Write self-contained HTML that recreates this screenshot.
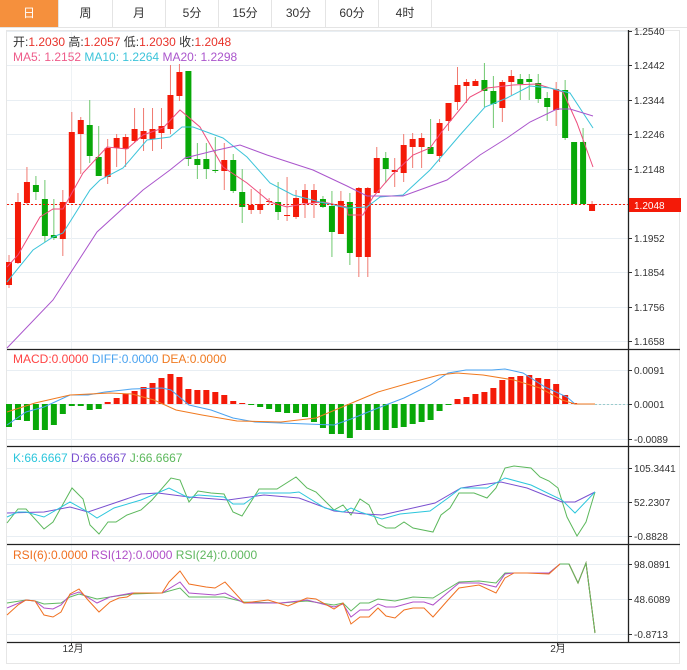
<!DOCTYPE html>
<html><head><meta charset="utf-8">
<style>
html,body{margin:0;padding:0;background:#fff;width:687px;height:670px;overflow:hidden;font-family:"Liberation Sans","Noto Sans CJK SC",sans-serif;}
.tabs{position:absolute;left:0;top:0;width:687px;height:27px;border-bottom:1px solid #e4e4e4;}
.tab{position:absolute;top:0;height:27px;line-height:27px;text-align:center;font-size:12px;color:#333;border-right:1px solid #e4e4e4;}
svg{position:absolute;left:0;top:0;}
</style></head><body>
<div class="tabs">
<div class="tab" style="left:0;width:58px;background:#f5903d;color:#fff;">日</div>
<div class="tab" style="left:59px;width:53px;">周</div>
<div class="tab" style="left:113px;width:52px;">月</div>
<div class="tab" style="left:166px;width:52px;">5分</div>
<div class="tab" style="left:219px;width:52px;">15分</div>
<div class="tab" style="left:272px;width:53px;">30分</div>
<div class="tab" style="left:326px;width:52px;">60分</div>
<div class="tab" style="left:379px;width:52px;">4时</div>
</div>
<svg id="s" width="687" height="670" xmlns="http://www.w3.org/2000/svg" font-family="Liberation Sans, Noto Sans CJK SC, sans-serif"></svg>
<script>
var s='';
function L(x1,y1,x2,y2,c,w,d){s+='<line x1="'+x1+'" y1="'+y1+'" x2="'+x2+'" y2="'+y2+'" stroke="'+c+'" stroke-width="'+(w||1)+'"'+(d?' stroke-dasharray="'+d+'"':'')+'/>';}
function P(pts,c){s+='<polyline fill="none" stroke="'+c+'" stroke-width="1" points="'+pts.map(function(p){return p.join(',')}).join(' ')+'"/>';}
function T(x,y,t,c,sz,a){s+='<text x="'+x+'" y="'+y+'" fill="'+c+'" font-size="'+(sz||12)+'"'+(a?' text-anchor="'+a+'"':'')+'>'+t+'</text>';}
// frame
s+='<rect x="6.5" y="30.5" width="673" height="633" fill="none" stroke="#e6e6e6"/>';
// grids main
var mg=[[31,'1.2540'],[65,'1.2442'],[100,'1.2344'],[134,'1.2246'],[169,'1.2148'],[238,'1.1952'],[272,'1.1854'],[307,'1.1756'],[341,'1.1658']];
mg.forEach(function(g){L(7,g[0]+.5,628,g[0]+.5,'#e8eef3');L(628,g[0]+.5,632,g[0]+.5,'#333');T(634,g[0]+4,g[1],'#333',10);});
L(7,204.5,628,204.5,'#e8eef3');
[[370,'0.0091'],[404,'0.0001'],[439,'-0.0089']].forEach(function(g){L(7,g[0]+.5,628,g[0]+.5,'#e8eef3');L(628,g[0]+.5,632,g[0]+.5,'#333');T(634,g[0]+4,g[1],'#333',10);});
[[468,'105.3441'],[502,'52.2307'],[536,'-0.8828']].forEach(function(g){L(7,g[0]+.5,628,g[0]+.5,'#e8eef3');L(628,g[0]+.5,632,g[0]+.5,'#333');T(634,g[0]+4,g[1],'#333',10);});
[[564,'98.0891'],[599,'48.6089'],[634,'-0.8713']].forEach(function(g){L(7,g[0]+.5,628,g[0]+.5,'#e8eef3');L(628,g[0]+.5,632,g[0]+.5,'#333');T(634,g[0]+4,g[1],'#333',10);});
L(71.5,31,71.5,642,'#eef2f5');L(557.5,31,557.5,642,'#eef2f5');
// panel separators
[349.5,446.5,544.5,642.5].forEach(function(y){L(7,y,680,y,'#222',1.3);});
L(628.5,30,628.5,642,'#222',1.3);
L(71.5,642,71.5,646,'#333');L(557.5,642,557.5,646,'#333');
T(73,652,'12月','#333',10,'middle');T(558,652,'2月','#333',10,'middle');
// candles
var C=[['r',262,285,255,288],['r',202,263,193,264],['r',182,203,167,204],['g',185,192,176,200],['g',199,236,180,242],['g',235,238,199,240],['r',202,239,190,256],['r',132,203,112,203],['r',120,134,117,174],['g',125,156,100,163],['g',157,176,126,176],['r',148,177,139,184],['r',138,148,134,167],['r',137,149,134,167],['r',129,141,108,143],['r',131,139,108,151],['r',129,139,108,151],['r',126,133,108,149],['r',95,129,65,134],['r',72,96,64,101],['g',71,159,71,166],['g',159,165,143,179],['g',159,169,143,179],['g',170,171,137,173],['r',160,171,143,190],['g',160,191,154,193],['g',192,207,169,223],['r',205,210,189,214],['r',204,210,189,214],['r',201,202,198,204],['g',202,212,182,220],['r',215,216,177,221],['r',198,217,190,219],['r',190,203,184,218],['r',190,203,184,218],['g',199,207,196,208],['g',206,232,191,257],['r',201,234,191,234],['g',202,253,193,265],['r',188,257,187,277],['r',188,257,187,277],['r',158,193,147,193],['g',158,169,152,183],['r',170,172,158,187],['r',145,173,134,182],['r',139,147,133,168],['r',138,147,133,168],['g',147,154,119,154],['r',123,156,119,162],['r',103,121,103,131],['r',85,102,67,110],['r',82,86,79,103],['r',81,86,79,86],['g',80,91,63,107],['g',91,104,76,128],['r',82,108,80,122],['r',76,82,70,95],['g',79,84,74,100],['g',79,82,74,100],['g',83,99,74,103],['g',98,107,92,121],['r',89,110,82,126],['g',90,138,80,140],['g',142,204,142,204],['g',142,204,128,204],['r',204,211,201,211]];
C.forEach(function(c,i){var x=9+8.97*i;var bc=c[0]=='r'?'#f41a08':'#08a808',wc=c[0]=='r'?'#f07a70':'#70c870';
L(x,c[3],x,c[4],wc);s+='<rect x="'+(x-3)+'" y="'+c[1]+'" width="6" height="'+Math.max(1,c[2]-c[1])+'" fill="'+bc+'"/>';});
// MAs
P([[7,267],[18,255],[40,217],[53,209],[63,209],[83,173],[107,147],[127,149],[143,135],[163,128],[180,110],[200,127],[223,167],[247,183],[270,202],[287,207],[303,204],[323,202],[347,207],[348,215],[363,215],[373,197],[392,175],[413,155],[430,148],[443,130],[470,97],[487,88],[513,85],[537,84],[563,92],[577,123],[593,167]],'#ee4d7d');
P([[7,282],[33,250],[53,237],[63,233],[90,190],[100,180],[123,168],[147,140],[170,137],[182,127],[193,127],[223,138],[247,157],[270,183],[293,195],[320,202],[347,208],[367,207],[380,197],[403,195],[430,170],[460,135],[485,107],[507,98],[530,86],[550,88],[570,93],[593,128]],'#3cc4da');
P([[7,348],[53,300],[97,232],[143,190],[170,170],[185,158],[213,151],[240,145],[267,155],[313,170],[347,186],[367,196],[403,196],[447,180],[480,155],[507,138],[530,122],[557,109],[570,109],[593,116]],'#aa55cc');
L(7,204.5,628,204.5,'#f41a08',1,'2,2');
s+='<rect x="629" y="198" width="52" height="14" fill="#f41a08"/>';T(634,209,'1.2048','#fff',10);
// legend main
s+='<text x="13" y="46" font-size="12"><tspan fill="#333">开:</tspan><tspan fill="#e8322a">1.2030</tspan><tspan fill="#333">  高:</tspan><tspan fill="#e8322a">1.2057</tspan><tspan fill="#333">  低:</tspan><tspan fill="#e8322a">1.2030</tspan><tspan fill="#333">  收:</tspan><tspan fill="#e8322a">1.2048</tspan></text>';
s+='<text x="13" y="61" font-size="12"><tspan fill="#ee5c8a">MA5: 1.2152</tspan><tspan fill="#3cc4da">  MA10: 1.2264</tspan><tspan fill="#aa55cc">  MA20: 1.2298</tspan></text>';
// MACD bars
var M=[427,420,421,430,430,425,414,406,406,410,409,402,398,394,391,387,383,378,374,377,389,390,390,392,395,401,403,405,407,409,412,413,413,417,422,428,434,434,438,430,430,430,430,428,427,424,422,420,411,404,399,397,394,392,388,380,377,376,375,378,379,384,395,403];
M.forEach(function(v,i){var x=9+8.97*i;var up=v<404;var h=Math.abs(v-404);if(h<1)h=1;s+='<rect x="'+(x-3)+'" y="'+(up?v:404)+'" width="6" height="'+h+'" fill="'+(up?'#f41a08':'#08a808')+'"/>';});
P([[7,425],[26,412],[44,407],[70,395],[88,395],[105,392],[132,389],[162,388],[171,390],[189,405],[211,410],[233,418],[255,422],[281,423],[307,424],[334,425],[351,419],[378,408],[404,398],[430,385],[448,373],[466,370],[492,370],[505,369],[523,373],[545,387],[567,397],[575,404],[595,404]],'#4aa3f0');
P([[7,412],[35,403],[70,395],[110,393],[132,394],[154,400],[176,410],[202,415],[237,421],[281,422],[316,418],[347,405],[378,392],[413,382],[439,375],[457,373],[483,375],[514,380],[540,388],[562,400],[575,404],[595,404]],'#f07a20');
L(595,404.5,628,404.5,'#9cc',1,'2,2');
s+='<text x="13" y="363" font-size="12"><tspan fill="#f44">MACD:0.0000</tspan><tspan fill="#4aa3f0">  DIFF:0.0000</tspan><tspan fill="#f07a20">  DEA:0.0000</tspan></text>';
// KDJ
P([[7,523],[18,509],[26,509],[44,529],[53,522],[72,488],[83,499],[90,525],[99,534],[108,522],[116,522],[127,515],[141,510],[152,500],[171,478],[180,480],[189,502],[198,491],[211,493],[224,494],[233,512],[242,516],[259,489],[277,489],[296,477],[307,488],[316,492],[334,510],[343,505],[351,515],[360,499],[369,505],[378,524],[386,528],[395,528],[404,522],[413,528],[433,532],[441,515],[450,508],[459,493],[474,493],[487,498],[496,488],[505,468],[514,466],[531,468],[540,477],[549,481],[558,488],[567,517],[577,536],[586,522],[595,492]],'#5cb85c');
P([[7,513],[44,512],[70,507],[88,512],[141,494],[158,493],[189,497],[228,500],[264,495],[299,498],[334,511],[365,514],[382,515],[435,503],[461,488],[501,482],[527,488],[562,502],[575,502],[595,492]],'#7a50d0');
P([[7,517],[18,512],[26,512],[44,517],[70,502],[88,512],[97,518],[114,508],[141,500],[169,488],[189,498],[198,495],[224,497],[233,504],[244,504],[259,493],[290,493],[299,492],[325,508],[343,512],[351,508],[360,512],[382,519],[400,514],[430,511],[448,498],[461,488],[487,488],[505,478],[531,485],[562,500],[575,513],[595,492]],'#2cc6dc');
s+='<text x="13" y="462" font-size="12"><tspan fill="#2cc6dc">K:66.6667</tspan><tspan fill="#7a50d0">  D:66.6667</tspan><tspan fill="#5cb85c">  J:66.6667</tspan></text>';
// RSI
var tail=[[560,564],[569,564],[578,583],[586,563],[595,633]];
P([[7,603],[26,600],[35,601],[44,604],[61,603],[70,597],[79,594],[97,599],[110,597],[132,594],[162,593],[180,588],[189,597],[224,597],[244,602],[281,603],[307,601],[334,605],[343,603],[351,611],[360,603],[369,603],[378,599],[395,601],[413,597],[433,598],[459,582],[479,581],[496,583],[505,573],[549,573]].concat(tail),'#60b860');
P([[7,608],[26,600],[35,601],[44,608],[53,609],[61,605],[70,595],[79,592],[97,603],[110,597],[132,593],[162,593],[180,582],[189,593],[215,595],[225,593],[244,603],[281,603],[307,600],[334,607],[343,604],[351,617],[360,610],[369,610],[378,604],[386,607],[395,607],[413,602],[424,602],[433,605],[459,583],[479,583],[496,587],[505,574],[514,573],[549,573]].concat(tail),'#b050c8');
P([[7,615],[18,605],[26,600],[35,601],[44,615],[53,617],[61,612],[70,594],[79,589],[88,600],[99,612],[110,602],[119,598],[127,597],[134,593],[162,593],[169,582],[180,571],[189,584],[206,587],[215,588],[225,582],[244,603],[268,600],[288,606],[307,598],[316,599],[334,609],[343,603],[351,624],[360,617],[369,617],[378,608],[386,616],[395,618],[404,610],[413,608],[424,608],[433,617],[448,600],[459,588],[479,585],[496,593],[505,578],[514,573],[527,573],[549,574]].concat(tail),'#f07020');
P(tail,'#60b860');
s+='<text x="13" y="559" font-size="12"><tspan fill="#f07020">RSI(6):0.0000</tspan><tspan fill="#b050c8">  RSI(12):0.0000</tspan><tspan fill="#60b860">  RSI(24):0.0000</tspan></text>';
document.getElementById('s').innerHTML=s;
</script>
</body></html>
